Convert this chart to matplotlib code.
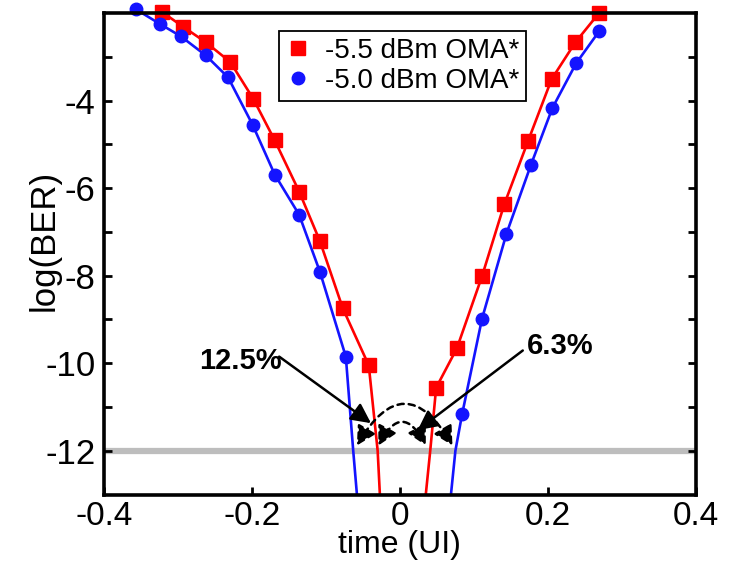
import matplotlib
matplotlib.use("Agg")
import matplotlib.pyplot as plt
from matplotlib.patches import FancyArrowPatch

plt.rcParams['font.family'] = ['Liberation Sans', 'DejaVu Sans']
plt.rcParams['axes.unicode_minus'] = False

# -5.5 dBm OMA* (red squares)
red_left_x = [-0.321, -0.293, -0.262, -0.229, -0.198, -0.169, -0.136, -0.108, -0.077, -0.042]
red_left_y = [-1.98, -2.31, -2.67, -3.12, -3.96, -4.91, -6.08, -7.21, -8.75, -10.05]
red_right_x = [0.049, 0.077, 0.111, 0.141, 0.173, 0.205, 0.237, 0.269]
red_right_y = [-10.56, -9.66, -8.01, -6.37, -4.93, -3.51, -2.67, -2.0]
red_left_tail_x = [-0.030, -0.027]
red_left_tail_y = [-12.0, -13.0]
red_right_tail_x = [0.035, 0.041]
red_right_tail_y = [-13.0, -12.0]

# -5.0 dBm OMA* (blue circles)
blue_left_x = [-0.357, -0.324, -0.296, -0.262, -0.232, -0.199, -0.169, -0.136, -0.108, -0.073]
blue_left_y = [-1.91, -2.25, -2.53, -2.97, -3.47, -4.55, -5.69, -6.61, -7.91, -9.85]
blue_right_x = [0.084, 0.111, 0.144, 0.177, 0.206, 0.238, 0.269]
blue_right_y = [-11.17, -8.98, -7.04, -5.47, -4.17, -3.15, -2.42]
blue_left_tail_x = [-0.063, -0.058]
blue_left_tail_y = [-12.0, -13.0]
blue_right_tail_x = [0.069, 0.075]
blue_right_tail_y = [-13.0, -12.0]

ber_limit = -12
x_ticks = [-0.4, -0.2, 0, 0.2, 0.4]
x_tick_labels = ['-0.4', '-0.2', '0', '0.2', '0.4']
y_ticks = [-12, -10, -8, -6, -4]
y_minor = [-11, -9, -7, -5, -3]

# opening annotations: (label, text position, arrow tip)
ann_labels = ['12.5%', '6.3%']
ann_text_xy = [(-0.216, -9.95), (0.216, -9.60)]
ann_start_xy = [(-0.163, -9.85), (0.166, -9.71)]
ann_tip_xy = [(-0.039, -11.37), (0.024, -11.53)]
# dashed double arrows spanning the eye opening at BER=1e-12
span_left = [-0.058, -0.029]
span_right = [0.071, 0.035]
span_y = -11.88
span_rad = [-0.85, -0.95]

RED = '#ff0000'
BLUE = '#1414ff'

fig = plt.figure(figsize=(7.36, 5.64), dpi=100)
ax = fig.add_axes([0.1409, 0.1232, 0.8048, 0.8537])

ax.axhline(ber_limit, color='#bdbdbd', lw=4.5, zorder=1)

lw = 1.9
ax.plot(red_left_x + red_left_tail_x, red_left_y + red_left_tail_y, color=RED, lw=lw, zorder=3)
ax.plot(red_right_tail_x + red_right_x, red_right_tail_y + red_right_y, color=RED, lw=lw, zorder=3)
ax.plot(blue_left_x + blue_left_tail_x, blue_left_y + blue_left_tail_y, color=BLUE, lw=lw, zorder=3)
ax.plot(blue_right_tail_x + blue_right_x, blue_right_tail_y + blue_right_y, color=BLUE, lw=lw, zorder=3)

ax.plot(red_left_x, red_left_y, 's', color=RED, ms=9.5, mec=RED, clip_on=False, zorder=4,
        label='-5.5 dBm OMA*')
ax.plot(red_right_x, red_right_y, 's', color=RED, ms=9.5, mec=RED, clip_on=False, zorder=4)
ax.plot(blue_left_x, blue_left_y, 'o', color=BLUE, ms=9, mec=BLUE, clip_on=False, zorder=4,
        label='-5.0 dBm OMA*')
ax.plot(blue_right_x, blue_right_y, 'o', color=BLUE, ms=9, mec=BLUE, clip_on=False, zorder=4)

ax.set_xlim(-0.4, 0.4)
ax.set_ylim(-13, -2)
ax.set_xticks(x_ticks)
ax.set_xticklabels(x_tick_labels)
ax.set_yticks(y_ticks)
ax.set_yticks(y_minor, minor=True)

for s in ax.spines.values():
    s.set_linewidth(2.6)
    s.set_zorder(5)
ax.tick_params(which='both', direction='in', length=6, width=2, right=True, top=False,
               labelsize=25)
ax.tick_params(axis='x', pad=5, labelsize=24)
ax.tick_params(axis='y', pad=6)

ax.set_xlabel('time (UI)', fontsize=23, labelpad=-2)
ax.set_ylabel('log(BER)', fontsize=25)
ax.yaxis.set_label_coords(-0.072, 0.527)

for lab, txy, sxy, tip in zip(ann_labels, ann_text_xy, ann_start_xy, ann_tip_xy):
    ax.text(txy[0], txy[1], lab, fontsize=21, fontweight='bold', ha='center', va='center')
    ax.annotate('', xy=tip, xytext=sxy,
                arrowprops=dict(arrowstyle='-|>,head_length=0.6,head_width=0.3',
                                color='black', lw=1.8, mutation_scale=20,
                                shrinkA=0, shrinkB=0), zorder=6)

for xl, xr, rad in zip(span_left, span_right, span_rad):
    arr = FancyArrowPatch((xl, span_y), (xr, span_y),
                          connectionstyle=f'arc3,rad={rad}',
                          arrowstyle='<|-|>,head_length=0.6,head_width=0.32',
                          mutation_scale=19, color='black', lw=1.8, linestyle=(0, (2.5, 2)),
                          shrinkA=0, shrinkB=0, zorder=6)
    ax.add_patch(arr)

leg = ax.legend(loc='upper left', bbox_to_anchor=(0.296, 0.963), borderaxespad=0,
                fontsize=20, frameon=True, fancybox=False, framealpha=1,
                edgecolor='black', handlelength=0.9, handletextpad=0.5,
                borderpad=0.25, labelspacing=0.15, numpoints=1)
leg.get_frame().set_linewidth(1.3)

fig.savefig('out.png', dpi=100)
